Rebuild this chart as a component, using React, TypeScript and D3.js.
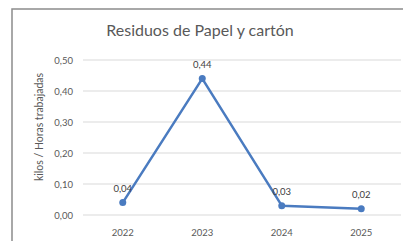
import React from "react";
import * as d3 from "d3";

const years = ["2022", "2023", "2024", "2025"];
const values = [0.04, 0.44, 0.03, 0.02];
const yTicks = [0, 0.1, 0.2, 0.3, 0.4, 0.5];

const W = 403, H = 241;
const fmt = (v: number) => v.toFixed(2).replace(".", ",");

export default function App() {
  const x = d3.scaleBand<string>().domain(years).range([83, 401]);
  const y = d3.scaleLinear().domain([0, 0.5]).range([215, 60]);
  const cx = (d: string) => (x(d) as number) + x.bandwidth() / 2;
  const line = d3.line<number>().x((_, i) => cx(years[i])).y((v) => y(v));
  const font = "Lato, 'Open Sans', sans-serif";
  return (
    <svg width={W} height={H} style={{ position: "fixed", left: 0, top: 0, background: "#fff" }} fontFamily={font}>
      <rect x={12} y={9} width={W} height={H} fill="#fff" stroke="#8c8c8c" strokeWidth={1.5} />
      <text x={200} y={36} textAnchor="middle" fontSize={16} fill="#595959">Residuos de Papel y cartón</text>
      {yTicks.map((t) => (
        <g key={t}>
          <line x1={83} x2={401} y1={y(t)} y2={y(t)} stroke="#d9d9d9" strokeWidth={1} />
          <text x={73} y={y(t) + 3.5} textAnchor="end" fontSize={9.5} fill="#595959">{fmt(t)}</text>
        </g>
      ))}
      <text transform={`translate(43,127) rotate(-90)`} textAnchor="middle" fontSize={10.5} fill="#595959">kilos / Horas trabajadas</text>
      {years.map((yr) => (
        <text key={yr} x={cx(yr)} y={236} textAnchor="middle" fontSize={9.5} fill="#595959">{yr}</text>
      ))}
      <path d={line(values) as string} fill="none" stroke="#4a7bc0" strokeWidth={2.5} strokeLinejoin="round" />
      {values.map((v, i) => (
        <circle key={i} cx={cx(years[i])} cy={y(v)} r={3.5} fill="#4a7bc0" />
      ))}
      {values.map((v, i) => (
        <text key={"l" + i} x={cx(years[i])} y={y(v) - 11} textAnchor="middle" fontSize={9.5} fill="#404040">{fmt(v)}</text>
      ))}
    </svg>
  );
}
